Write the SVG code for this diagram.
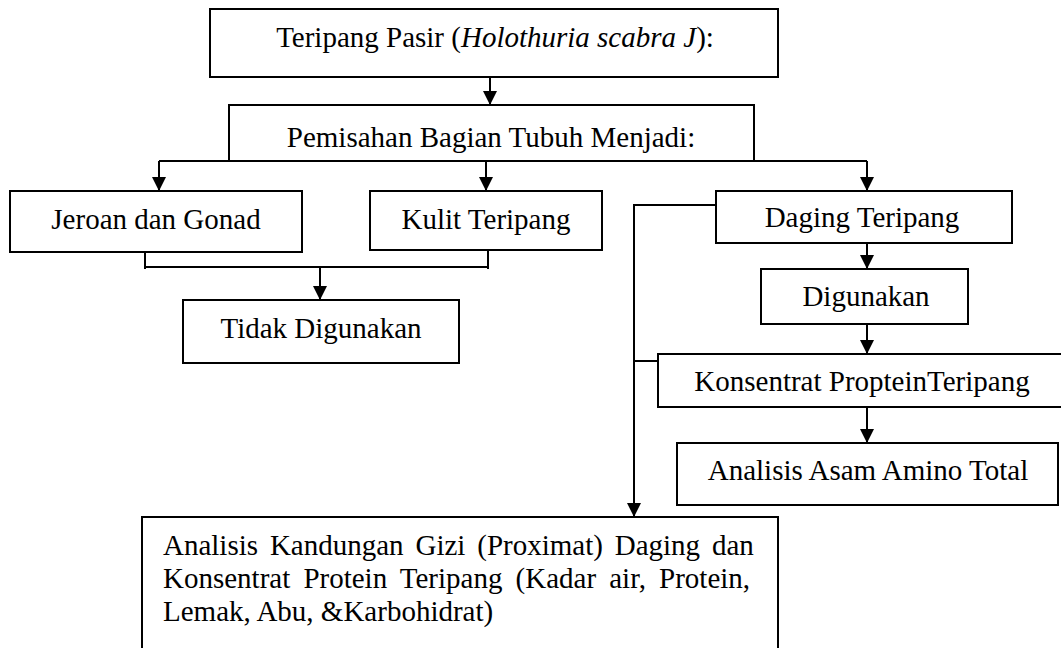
<svg xmlns="http://www.w3.org/2000/svg" width="1061" height="648" viewBox="0 0 1061 648">
<style>
.box{fill:#fff;stroke:#000;stroke-width:2}
.t{font-family:"Liberation Serif","Times New Roman",serif;font-size:29px;fill:#000}
.c{text-anchor:middle}
.ln{fill:none;stroke:#000;stroke-width:2}
.ar{fill:none;stroke:#000;stroke-width:2;marker-end:url(#ah)}
</style>
<defs>
<marker id="ah" viewBox="0 0 14 14" markerWidth="14" markerHeight="14" refX="14" refY="7" orient="auto" markerUnits="userSpaceOnUse">
<path d="M0,0 L14,7 L0,14 z" fill="#000"/>
</marker>
</defs>
<rect width="1061" height="648" fill="#fff"/>
<g id="connectors">
<line class="ar" x1="490" y1="77" x2="490" y2="105"/>
<line class="ln" x1="159" y1="161" x2="867" y2="161"/>
<line class="ar" x1="159" y1="161" x2="159" y2="191"/>
<line class="ar" x1="486" y1="161" x2="486" y2="191"/>
<line class="ar" x1="867" y1="161" x2="867" y2="191"/>
<polyline class="ln" points="145,241 145,269"/>
<polyline class="ln" points="488,241 488,269"/>
<line class="ln" x1="144" y1="267" x2="489" y2="267"/>
<line class="ar" x1="320" y1="267" x2="320" y2="300"/>
<polyline class="ar" points="716,205 634,205 634,517"/>
<line class="ln" x1="634" y1="361" x2="658" y2="361"/>
<line class="ar" x1="867" y1="243" x2="867" y2="269"/>
<line class="ar" x1="867" y1="324" x2="867" y2="354"/>
<line class="ar" x1="867" y1="407" x2="867" y2="443"/>
</g>
<g id="n-teripang">
<rect class="box" x="210" y="9" width="568" height="68"/>
<text class="t c" x="495" y="47">Teripang Pasir (<tspan font-style="italic">Holothuria scabra J</tspan>):</text>
</g>
<g id="n-pemisahan">
<rect class="box" x="229" y="105" width="525" height="56"/>
<text class="t c" x="491" y="147">Pemisahan Bagian Tubuh Menjadi:</text>
</g>
<g id="n-jeroan">
<rect class="box" x="10" y="191" width="292" height="61"/>
<text class="t c" x="156" y="229">Jeroan dan Gonad</text>
</g>
<g id="n-kulit">
<rect class="box" x="370" y="191" width="232" height="59"/>
<text class="t c" x="486" y="229">Kulit Teripang</text>
</g>
<g id="n-tidak">
<rect class="box" x="183" y="300" width="276" height="63"/>
<text class="t c" x="321" y="338">Tidak Digunakan</text>
</g>
<g id="n-daging">
<rect class="box" x="716" y="191" width="296" height="52"/>
<text class="t c" x="862" y="227">Daging Teripang</text>
</g>
<g id="n-digunakan">
<rect class="box" x="761" y="269" width="207" height="55"/>
<text class="t c" x="866" y="306">Digunakan</text>
</g>
<g id="n-konsentrat">
<rect class="box" x="658" y="354" width="410" height="53"/>
<text class="t c" x="862" y="391">Konsentrat PropteinTeripang</text>
</g>
<g id="n-asam">
<rect class="box" x="677" y="443" width="381" height="62"/>
<text class="t c" x="868" y="480">Analisis Asam Amino Total</text>
</g>
<g id="n-proksimat">
<rect class="box" x="142" y="517" width="636" height="150"/>
<text class="t" x="163" y="555" word-spacing="4.6">Analisis Kandungan Gizi (Proximat) Daging dan</text>
<text class="t" x="163" y="588" word-spacing="5.9">Konsentrat Protein Teripang (Kadar air, Protein,</text>
<text class="t" x="163" y="621">Lemak, Abu, &amp;Karbohidrat)</text>
</g>
</svg>
